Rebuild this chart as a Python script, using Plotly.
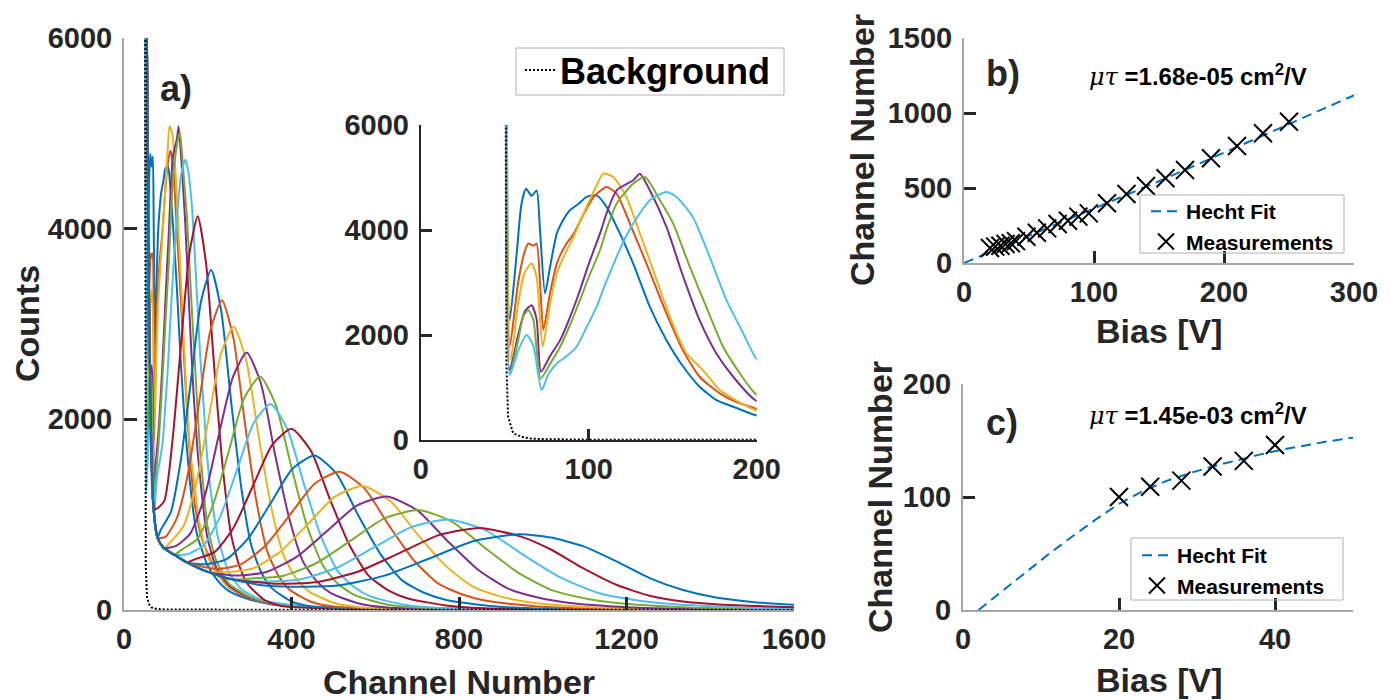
import plotly.graph_objects as go

# ---------------- DATA ----------------
COLORS = ["#0072BD", "#D95319", "#EDB120", "#7E2F8E", "#77AC30", "#4DBEEE", "#A2142F"]

# Pulse-height spectra, one list per bias step (channel, counts)
SPEC_CHANNELS = [
    [51, 53, 57, 60, 62.7, 66, 69, 71, 74, 77, 81, 85, 88.8, 94, 98.7, 104.7, 110.6, 118.6, 126.5, 136.4, 146.3, 156.3, 166, 176, 186, 199, 220, 250, 300, 350, 400, 500, 700, 1000, 1600],
    [51, 53, 58, 62, 64, 67, 69, 71, 73, 77, 81, 86, 91, 97, 103, 110.6, 116.6, 124.5, 134.4, 146.3, 156, 166, 178, 188, 199, 220, 250, 300, 350, 400, 500, 700, 1000, 1600],
    [51, 53.5, 58, 62, 66, 69, 72.6, 77, 81, 86, 91, 98.7, 104, 108.7, 114.6, 122.5, 130.5, 138.4, 148.3, 158.2, 168, 178, 188, 199, 220, 250, 300, 350, 400, 500, 700, 1000, 1600],
    [51, 53, 58, 62, 66, 69, 71.6, 77, 83, 89, 94.8, 100, 106.7, 111, 116.6, 126.5, 130.5, 136.4, 146.3, 156.3, 166, 176, 186, 199, 220, 250, 300, 350, 400, 500, 700, 1000, 1600],
    [51, 53, 58, 61, 64, 67, 71.4, 77, 83, 89, 94.8, 100, 106.7, 111, 116.6, 126.5, 133.5, 142.4, 150.3, 160.2, 170, 180, 190, 199, 220, 250, 300, 350, 400, 500, 700, 1000, 1600],
    [51, 53, 58, 63, 67, 72, 76, 81, 87, 92.8, 98, 104.7, 110, 116.6, 121, 126.5, 136.4, 146.3, 152.3, 162, 172, 182, 192, 199, 210, 225, 250, 280, 320, 370, 420, 500, 700, 1000, 1600],
    [51, 54, 58, 63, 70, 76, 96, 116, 136, 156, 176, 196, 216, 236, 256, 276, 296, 336, 376, 500, 800, 1600],
    [51, 54, 58, 63, 70, 80, 88, 112, 136, 160, 184, 208, 232, 256, 280, 304, 328, 352, 400, 448, 600, 900, 1600],
    [51, 54, 58, 63, 70, 80, 99, 126, 153, 180, 207, 234, 261, 288, 315, 342, 369, 396, 450, 504, 650, 1000, 1600],
    [51, 54, 58, 63, 70, 80, 95, 112, 142, 172, 202, 232, 262, 292, 322, 352, 382, 412, 442, 502, 562, 700, 1000, 1600],
    [51, 54, 58, 63, 70, 80, 95, 126, 159, 193, 226, 260, 293, 327, 360, 394, 427, 461, 494, 561, 628, 800, 1100, 1600],
    [51, 54, 58, 63, 70, 80, 95, 120, 137, 175, 212, 250, 287, 325, 362, 400, 437, 475, 512, 550, 625, 700, 900, 1200, 1600],
    [51, 54, 58, 63, 70, 80, 95, 120, 150, 190, 230, 270, 310, 350, 390, 430, 470, 510, 550, 590, 670, 750, 950, 1250, 1600],
    [51, 54, 58, 63, 70, 80, 95, 120, 150, 170, 216, 262, 308, 354, 400, 446, 492, 538, 584, 630, 676, 768, 860, 1050, 1300, 1600],
    [51, 54, 58, 63, 70, 80, 95, 120, 150, 192, 245, 297, 350, 402, 455, 508, 560, 613, 665, 718, 770, 875, 980, 1200, 1600],
    [51, 54, 58, 63, 70, 80, 95, 120, 150, 220, 279, 338, 397, 456, 515, 574, 633, 692, 751, 810, 869, 987, 1105, 1350, 1600],
    [51, 54, 58, 63, 70, 80, 95, 120, 150, 200, 242, 308, 373, 439, 504, 570, 636, 701, 767, 832, 898, 963, 1094, 1225, 1450, 1600],
    [51, 54, 58, 63, 70, 80, 95, 120, 150, 200, 268, 340, 412, 484, 556, 628, 700, 772, 844, 916, 988, 1060, 1204, 1348, 1600],
    [51, 54, 58, 63, 70, 80, 95, 120, 150, 200, 260, 298, 379, 460, 541, 622, 703, 784, 865, 946, 1027, 1108, 1189, 1351, 1513, 1600],
    [51, 54, 58, 63, 70, 80, 95, 120, 150, 200, 260, 331, 419, 508, 597, 686, 775, 864, 953, 1042, 1131, 1220, 1309, 1487, 1600],
    [51, 54, 58, 63, 70, 80, 95, 120, 150, 200, 260, 360, 458, 556, 654, 752, 850, 948, 1017, 1096, 1176, 1255, 1335, 1450, 1600],
    [51, 54, 58, 63, 70, 80, 95, 120, 150, 200, 260, 330, 402, 511, 620, 728, 836, 945, 1020, 1096, 1176, 1255, 1335, 1414, 1500, 1600],
]
SPEC_COUNTS = [
    [9000, 2283, 3500, 4500, 4787, 4650, 4755, 4000, 2790, 3300, 3930, 4200, 4375, 4500, 4630, 4660, 4440, 3930, 3360, 2536, 1902, 1395, 1015, 761, 634, 475, 330, 200, 110, 60, 40, 20, 10, 5, 2],
    [9000, 1776, 3000, 3600, 3741, 3700, 3741, 3000, 2093, 2800, 3361, 3700, 3930, 4300, 4630, 4819, 4692, 4122, 3361, 2410, 1712, 1205, 888, 720, 602, 400, 240, 120, 65, 40, 20, 10, 5, 2],
    [9000, 1522, 2600, 3200, 3361, 3100, 1776, 2600, 3171, 3550, 3868, 4439, 4800, 5073, 5010, 4629, 3931, 3234, 2346, 1649, 1332, 951, 750, 571, 400, 250, 130, 70, 42, 20, 10, 5, 2],
    [9000, 1332, 2000, 2450, 2568, 2300, 1300, 1600, 1902, 2350, 2853, 3350, 3931, 4350, 4756, 4946, 5073, 4756, 4058, 3107, 2283, 1649, 1205, 761, 450, 260, 130, 70, 45, 22, 10, 5, 2],
    [9000, 1268, 1900, 2350, 2473, 2300, 1173, 1450, 1776, 2200, 2663, 3100, 3614, 4050, 4502, 4883, 5010, 4566, 4122, 3297, 2536, 1776, 1268, 888, 520, 280, 140, 75, 45, 22, 10, 5, 2],
    [9000, 1237, 1700, 1998, 1800, 951, 1250, 1458, 1600, 1776, 2100, 2536, 2980, 3488, 3800, 4122, 4566, 4724, 4629, 4249, 3488, 2663, 2029, 1585, 1150, 750, 400, 220, 120, 70, 45, 25, 12, 5, 2],
    [9000, 6500, 4000, 2200, 1100, 1058, 1142, 1787, 2782, 3736, 4130, 3634, 2519, 1487, 785, 454, 268, 103, 41, 15, 6, 2],
    [9000, 6500, 4000, 2200, 1100, 760, 842, 1029, 1581, 2411, 3238, 3570, 3142, 2178, 1285, 678, 393, 232, 89, 36, 12, 5, 2],
    [9000, 6500, 4000, 2200, 1100, 760, 767, 961, 1435, 2197, 2944, 3250, 2860, 1983, 1170, 618, 358, 211, 81, 33, 12, 5, 2],
    [9000, 6500, 4000, 2200, 1100, 760, 650, 717, 878, 1318, 2007, 2696, 2970, 2614, 1812, 1069, 564, 327, 193, 74, 30, 12, 5, 2],
    [9000, 6500, 4000, 2200, 1100, 760, 650, 676, 807, 1197, 1827, 2444, 2700, 2376, 1647, 972, 513, 297, 176, 68, 27, 10, 4, 2],
    [9000, 6500, 4000, 2200, 1100, 760, 650, 580, 631, 745, 1094, 1660, 2222, 2450, 2156, 1495, 882, 466, 270, 159, 61, 25, 9, 4, 2],
    [9000, 6500, 4000, 2200, 1100, 760, 650, 580, 584, 678, 982, 1472, 1964, 2160, 1901, 1318, 778, 410, 238, 140, 54, 22, 8, 3, 2],
    [9000, 6500, 4000, 2200, 1100, 760, 650, 580, 500, 534, 607, 866, 1303, 1732, 1900, 1672, 1159, 684, 361, 209, 124, 48, 19, 7, 3, 2],
    [9000, 6500, 4000, 2200, 1100, 760, 650, 580, 500, 479, 534, 755, 1119, 1479, 1620, 1426, 988, 583, 308, 178, 105, 41, 16, 6, 2],
    [9000, 6500, 4000, 2200, 1100, 760, 650, 580, 500, 430, 479, 677, 1003, 1327, 1450, 1276, 885, 522, 276, 160, 94, 36, 15, 5, 2],
    [9000, 6500, 4000, 2200, 1100, 760, 650, 580, 500, 400, 395, 437, 611, 900, 1189, 1300, 1144, 793, 468, 247, 143, 85, 33, 13, 5, 3],
    [9000, 6500, 4000, 2200, 1100, 760, 650, 580, 500, 400, 361, 399, 557, 825, 1094, 1190, 1047, 726, 428, 226, 131, 77, 30, 12, 4],
    [9000, 6500, 4000, 2200, 1100, 760, 650, 580, 500, 400, 320, 329, 357, 493, 727, 961, 1050, 924, 641, 378, 200, 116, 68, 26, 11, 8],
    [9000, 6500, 4000, 2200, 1100, 760, 650, 580, 500, 400, 320, 298, 320, 443, 656, 869, 950, 836, 580, 342, 181, 105, 62, 24, 14],
    [9000, 6500, 4000, 2200, 1100, 760, 650, 580, 500, 400, 320, 276, 290, 398, 589, 785, 860, 770, 640, 440, 265, 150, 90, 52, 30],
    [9000, 6500, 4000, 2200, 1100, 760, 650, 580, 500, 400, 320, 260, 245, 256, 358, 538, 723, 795, 760, 670, 510, 335, 210, 130, 85, 55],
]
INSET_COUNT = 6  # first six spectra are repeated in the inset

BG_CHANNELS = [50.5, 51, 52, 55, 60, 65, 70, 80, 100, 200, 400, 800, 1200, 1600]
BG_COUNTS = [9000, 1500, 450, 130, 60, 30, 18, 10, 6, 4, 3, 2, 2, 1]

B_BIAS = [20, 24, 28, 32, 36, 40, 48, 56, 64, 72, 80, 88, 96, 110, 125, 140, 155, 170, 190, 210, 230, 250]
B_CHANNEL = [100, 109, 114.5, 127, 132, 146, 175, 202, 231, 260, 282, 309, 331, 398, 460, 513, 565, 620, 698, 780, 865, 942]
B_FIT_BIAS = [0, 50, 100, 150, 200, 250, 300]
B_FIT_CH = [0, 180, 360, 545, 735, 925, 1118]

C_BIAS = [20, 24, 28, 32, 36, 40]
C_CHANNEL = [100, 109, 114.5, 127, 132, 146]
C_FIT_BIAS = [2, 5, 8, 11, 14, 17, 20, 23, 26, 29, 32, 35, 38, 41, 44, 47, 50]
C_FIT_CH = [0, 16.5, 33, 49.5, 65, 80, 94, 105, 114, 121, 127, 132.5, 137.5, 142, 146, 149.5, 152.5]

MAIN_XTICKS = [0, 400, 800, 1200, 1600]
MAIN_YTICKS = [0, 2000, 4000, 6000]
INSET_XTICKS = [0, 100, 200]
B_XTICKS = [0, 100, 200, 300]
B_YTICKS = [0, 500, 1000, 1500]
C_XTICKS = [0, 20, 40]
C_YTICKS = [0, 100, 200]

# ---------------- FIGURE ----------------
W, H = 1396, 700
OFF = 8  # the page body adds an 8 px offset; positions below are window pixels


def px(x):
    return (x - OFF) / W


def py(y):
    return 1 - (y - OFF) / H


FONT = "Liberation Sans, Arial, sans-serif"
DARK = "#262626"

fig = go.Figure()

for i, (ch, ct) in enumerate(zip(SPEC_CHANNELS, SPEC_COUNTS)):
    col = COLORS[i % len(COLORS)]
    fig.add_trace(go.Scatter(x=ch, y=ct, mode="lines", line=dict(color=col, width=2, shape="spline", smoothing=0.6),
                             showlegend=False, hoverinfo="skip", xaxis="x", yaxis="y"))
for i in range(INSET_COUNT):
    col = COLORS[i % len(COLORS)]
    fig.add_trace(go.Scatter(x=SPEC_CHANNELS[i], y=SPEC_COUNTS[i], mode="lines",
                             line=dict(color=col, width=2, shape="spline", smoothing=0.6),
                             showlegend=False, hoverinfo="skip", xaxis="x2", yaxis="y2"))

fig.add_trace(go.Scatter(x=BG_CHANNELS, y=BG_COUNTS, mode="lines", name="Background",
                         line=dict(color="black", width=2, dash="2px,2px"),
                         legend="legend", xaxis="x", yaxis="y"))
fig.add_trace(go.Scatter(x=BG_CHANNELS, y=BG_COUNTS, mode="lines", showlegend=False,
                         line=dict(color="black", width=2, dash="2px,2px"),
                         xaxis="x2", yaxis="y2"))

# panel b
fig.add_trace(go.Scatter(x=B_FIT_BIAS, y=B_FIT_CH, mode="lines", name="Hecht Fit",
                         line=dict(color="#0072BD", width=2, dash="10px,6px"),
                         legend="legend2", xaxis="x3", yaxis="y3"))
fig.add_trace(go.Scatter(x=B_BIAS, y=B_CHANNEL, mode="markers", name="Measurements",
                         marker=dict(symbol="x-thin", size=18, color="black", line=dict(width=2, color="black")),
                         legend="legend2", xaxis="x3", yaxis="y3"))
# panel c
fig.add_trace(go.Scatter(x=C_FIT_BIAS, y=C_FIT_CH, mode="lines", name="Hecht Fit",
                         line=dict(color="#0072BD", width=2, dash="10px,6px"),
                         legend="legend3", xaxis="x4", yaxis="y4"))
fig.add_trace(go.Scatter(x=C_BIAS, y=C_CHANNEL, mode="markers", name="Measurements",
                         marker=dict(symbol="x-thin", size=18, color="black", line=dict(width=2, color="black")),
                         legend="legend3", xaxis="x4", yaxis="y4"))

tickfont = dict(family=FONT, size=29, color=DARK, weight="bold")


def axis(domain, rng, tickvals, anchor, linecolor="#a6a6a6", ticklen=13, standoff=4):
    return dict(domain=domain, range=rng, tickvals=tickvals, ticktext=[str(v) for v in tickvals],
                anchor=anchor, showline=True, linecolor=linecolor, linewidth=2,
                ticks="inside", ticklen=ticklen, tickwidth=2.5, tickcolor=DARK,
                showgrid=False, zeroline=False, tickfont=tickfont, ticklabelstandoff=standoff,
                automargin=False, fixedrange=True)


def legend_box(x0, y0, x1, y1):
    return dict(type="rect", xref="paper", yref="paper", x0=px(x0), x1=px(x1), y0=py(y1), y1=py(y0),
                line=dict(color="#b0b0b0", width=1), fillcolor="rgba(0,0,0,0)", layer="above")


fig.update_layout(
    width=W, height=H, margin=dict(l=0, r=0, t=0, b=0, pad=0, autoexpand=False),
    paper_bgcolor="white", plot_bgcolor="rgba(0,0,0,0)",
    xaxis=axis([px(124), px(794)], [0, 1600], MAIN_XTICKS, "y", standoff=2),
    yaxis=axis([py(610), py(38)], [0, 6000], MAIN_YTICKS, "x"),
    xaxis2=axis([px(420.7), px(756.7)], [0, 200], INSET_XTICKS, "y2", linecolor=DARK, ticklen=11, standoff=2),
    yaxis2=axis([py(440), py(125)], [0, 6000], MAIN_YTICKS, "x2", linecolor=DARK, ticklen=11),
    xaxis3=axis([px(964), px(1354)], [0, 300], B_XTICKS, "y3", ticklen=12, standoff=2),
    yaxis3=axis([py(263), py(38)], [0, 1500], B_YTICKS, "x3", ticklen=12),
    xaxis4=axis([px(963), px(1353)], [0, 50], C_XTICKS, "y4", ticklen=12, standoff=2),
    yaxis4=axis([py(610), py(384)], [0, 200], C_YTICKS, "x4", ticklen=12),
    showlegend=True,
    legend=dict(x=px(520), y=py(40), xanchor="left", yanchor="top", bgcolor="rgba(0,0,0,0)",
                borderwidth=0,
                font=dict(family=FONT, size=36, color="black", weight="bold")),
    legend2=dict(x=px(1146), y=py(191), xanchor="left", yanchor="top", bgcolor="rgba(0,0,0,0)",
                 borderwidth=0, tracegroupgap=0,
                 font=dict(family=FONT, size=21, color="black", weight="bold")),
    legend3=dict(x=px(1137), y=py(535), xanchor="left", yanchor="top", bgcolor="rgba(0,0,0,0)",
                 borderwidth=0, tracegroupgap=0,
                 font=dict(family=FONT, size=21, color="black", weight="bold")),
    shapes=[legend_box(516, 48, 784, 95), legend_box(1140, 195, 1344, 253), legend_box(1131, 538, 1343, 600)],
)


def note(text, x, y, size, angle=0, weight="bold"):
    fig.add_annotation(text=text, x=px(x), y=py(y), xref="paper", yref="paper",
                       showarrow=False, textangle=angle, xanchor="center", yanchor="middle",
                       font=dict(family=FONT, size=size, color=DARK if weight == "bold" else "black", weight=weight))


# axis titles
note("Counts", 27, 324, 34, -90)
note("Channel Number", 459, 682, 34)
note("Channel Number", 862, 150, 34, -90)
note("Bias [V]", 1159, 331, 34)
note("Channel Number", 880, 497, 34, -90)
note("Bias [V]", 1159, 680, 34)
# panel labels
note("a)", 176, 88, 36)
note("b)", 1003, 73, 36)
note("c)", 1002, 422, 36)
mu = '<span style="font-family:DejaVu Serif"><i>μτ</i></span> '
note(mu + "<b>=1.68e-05 cm<sup>2</sup>/V</b>", 1198, 75, 24, weight="normal")
note(mu + "<b>=1.45e-03 cm<sup>2</sup>/V</b>", 1198, 414, 24, weight="normal")

fig.write_html("out.html", config={"displayModeBar": False})
